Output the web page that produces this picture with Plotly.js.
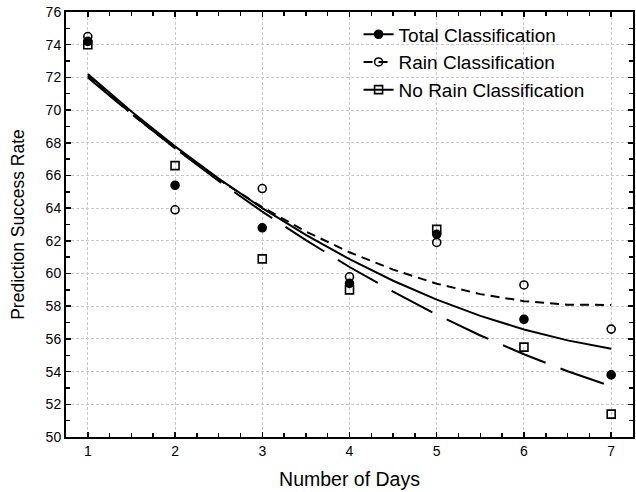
<!DOCTYPE html>
<html><head><meta charset="utf-8">
<script src="https://cdn.plot.ly/plotly-3.0.1.min.js"></script>
<style>html,body{margin:0;padding:0;background:#fff}</style>
</head><body><div id="chart" style="width:636px;height:492px"></div>
<script>
const days = [1, 2, 3, 4, 5, 6, 7];
const totalPts = [74.2, 65.4, 62.8, 59.4, 62.4, 57.2, 53.8];
const rainPts = [74.5, 63.9, 65.2, 59.8, 61.9, 59.3, 56.6];
const noRainPts = [74.0, 66.6, 60.9, 59.0, 62.7, 55.5, 51.4];
const fitX = [1, 1.5, 2, 2.5, 3, 3.5, 4, 4.5, 5, 5.5, 6, 6.5, 7];
const totalFit = [72.2, 69.91, 67.78, 65.81, 64.0, 62.36, 60.88, 59.56, 58.4, 57.41, 56.58, 55.91, 55.4];
const rainFit = [72.1, 69.77, 67.66, 65.75, 64.06, 62.57, 61.3, 60.24, 59.38, 58.74, 58.31, 58.09, 58.08];
const noRainFit = [72.0, 69.77, 67.66, 65.66, 63.79, 62.04, 60.4, 58.89, 57.49, 56.21, 55.06, 54.02, 53.1];
const seriesNames = ['Total Classification', 'Rain Classification', 'No Rain Classification'];
const xTicks = [1, 2, 3, 4, 5, 6, 7];
const yTicks = [50, 52, 54, 56, 58, 60, 62, 64, 66, 68, 70, 72, 74, 76];

const FONT = 'Liberation Sans, Arial, sans-serif';
function combined(fit, pts) {
  const x = fitX.slice(), y = fit.slice();
  x.push(null); y.push(null);
  const sel = [];
  days.forEach((d, i) => { sel.push(x.length); x.push(d); y.push(pts[i]); x.push(null); y.push(null); });
  return {x, y, sel};
}
const styles = [
  {dash: 'solid', symbol: 'circle'},
  {dash: '9px,6px', symbol: 'circle-open'},
  {dash: '46px,16px', symbol: 'square-open'}
];
const fits = [totalFit, rainFit, noRainFit];
const pts = [totalPts, rainPts, noRainPts];
const traces = fits.map((f, k) => {
  const c = combined(f, pts[k]);
  return {
    x: c.x, y: c.y, name: seriesNames[k], type: 'scatter', mode: 'lines+markers',
    connectgaps: false,
    selectedpoints: c.sel,
    unselected: {marker: {opacity: 0}},
    selected: {marker: {opacity: 1}},
    line: {color: '#000', width: 2, dash: styles[k].dash},
    marker: {symbol: styles[k].symbol, size: 8, color: '#000', line: {color: '#000', width: 1.6}}
  };
});
const axisCommon = {
  showline: true, linecolor: '#000', linewidth: 2, mirror: 'ticks',
  ticks: 'inside', ticklen: 5, tickcolor: '#000', tickwidth: 1.5,
  showgrid: true, gridcolor: '#c8c8c8', griddash: '3px,2px', gridwidth: 1,
  zeroline: false, tickfont: {family: FONT, size: 14, color: '#000'}
};
const layout = {
  width: 636, height: 492,
  margin: {l: 66, r: 3, t: 12, b: 55},
  paper_bgcolor: '#fff', plot_bgcolor: '#fff',
  font: {family: FONT, color: '#000'},
  showlegend: true,
  legend: {x: 0.516, y: 0.992, xanchor: 'left', yanchor: 'top', bgcolor: 'rgba(0,0,0,0)',
    font: {family: FONT, size: 19, color: '#000'}, tracegroupgap: 0},
  xaxis: Object.assign({}, axisCommon, {
    range: [0.75, 7.25], tickmode: 'array', tickvals: xTicks, ticktext: xTicks.map(String),
    minor: {dtick: 0.25, tick0: 0, ticks: 'inside', ticklen: 4, tickcolor: '#000', showgrid: false},
    title: {text: 'Number of Days', font: {size: 19.5, family: FONT}, standoff: 15}
  }),
  yaxis: Object.assign({}, axisCommon, {
    range: [50, 76], tickmode: 'array', tickvals: yTicks, ticktext: yTicks.map(String),
    minor: {dtick: 1, tick0: 0, ticks: 'inside', ticklen: 4, tickcolor: '#000', showgrid: false},
    title: {text: 'Prediction Success Rate', font: {size: 17.5, family: FONT}, standoff: 16}
  })
};
Plotly.newPlot('chart', traces, layout, {displayModeBar: false, staticPlot: true});
</script></body></html>
